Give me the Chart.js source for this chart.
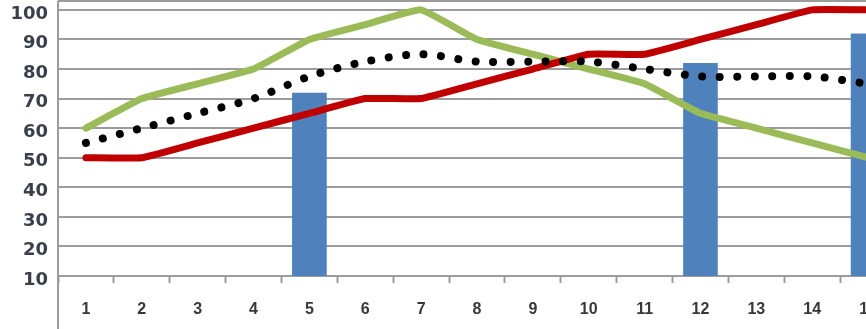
<!DOCTYPE html>
<html>
<head>
<meta charset="utf-8">
<script src="https://cdn.jsdelivr.net/npm/chart.js@4"></script>
<style>
  html, body { margin: 0; padding: 0; background: #fff; overflow: hidden; }
  #wrap { width: 866px; height: 329px; overflow: hidden; }
</style>
</head>
<body>
<div id="wrap"><canvas id="chart" width="896" height="329"></canvas></div>
<script>
// valeurs (la 15e catégorie est coupée au bord droit)
const categories = ['1', '2', '3', '4', '5', '6', '7', '8', '9', '10', '11', '12', '13', '14', '15'];
const barValues   = [null, null, null, null, 72, null, null, null, null, null, null, 82, null, null, 92];
const redValues   = [50, 50, 55, 60, 65, 70, 70, 75, 80, 85, 85, 90, 95, 100, 100];
const greenValues = [60, 70, 75, 80, 90, 95, 100, 90, 85, 80, 75, 65, 60, 55, 50];
const dotValues   = [55, 60, 65, 70, 77.5, 82.5, 85, 82.5, 82.5, 82.5, 80, 77.5, 77.5, 77.5, 75];
const yTicks      = [10, 20, 30, 40, 50, 60, 70, 80, 90, 100];

const GRID = '#9c9c9c';
const BLUE = '#4f81bd';
const RED  = '#c00000';
const GREEN = '#9bbb59';

// prolonge l'axe vertical jusqu'en bas, comme sur l'original
const axisDown = {
    id: 'axisDown',
    afterDraw(chart) {
        const { ctx, chartArea } = chart;
        ctx.save();
        ctx.strokeStyle = GRID;
        ctx.lineWidth = 2;
        ctx.beginPath();
        ctx.moveTo(chartArea.left, chartArea.top);
        ctx.lineTo(chartArea.left, chart.height);
        ctx.stroke();
        ctx.restore();
    },
};

const line = (data, color, order) => ({
    type: 'line',
    data,
    borderColor: color,
    borderWidth: 7,
    pointRadius: 0,
    tension: 0.1,
    borderJoinStyle: 'round',
    borderCapStyle: 'round',
    order,
});

new Chart(document.getElementById('chart'), {
    data: {
        labels: categories,
        datasets: [
            {
                type: 'line',
                data: dotValues,
                borderColor: '#000',
                borderWidth: 8,
                borderDash: [0.01, 17.5],
                borderCapStyle: 'round',
                pointRadius: 0,
                tension: 0.3,
                order: 1,
            },
            line(redValues, RED, 2),
            line(greenValues, GREEN, 3),
            {
                type: 'bar',
                data: barValues,
                backgroundColor: BLUE,
                barPercentage: 0.62,
                categoryPercentage: 1,
                order: 4,
            },
        ],
    },
    options: {
        responsive: false,
        animation: false,
        devicePixelRatio: 1,
        layout: { padding: { top: 1, left: 0, right: 0, bottom: 0 } },
        plugins: { legend: { display: false }, tooltip: { enabled: false } },
        scales: {
            x: {
                offset: true,
                grid: {
                    offset: true,
                    drawOnChartArea: false,
                    drawTicks: true,
                    tickLength: 7,
                    tickWidth: 2,
                    color: GRID,
                },
                border: { display: true, color: GRID, width: 2 },
                ticks: {
                    color: '#383838',
                    font: { family: 'Liberation Sans', size: 16, weight: 'bold' },
                    padding: 17,
                    maxRotation: 0,
                    autoSkip: false,
                },
                afterFit(scale) { scale.height = 53; },
            },
            y: {
                min: 10,
                max: 103,
                afterBuildTicks(scale) {
                    scale.ticks = yTicks.concat([103]).map(v => ({ value: v }));
                },
                grid: { color: GRID, lineWidth: 2, drawTicks: false },
                border: { display: false },
                ticks: {
                    color: '#3a404b',
                    font: { family: 'DejaVu Sans', size: 18, weight: 'bold' },
                    padding: 10,
                    labelOffset: 4,
                    callback: (v) => (yTicks.includes(v) ? String(v) : ''),
                },
                afterFit(scale) {
                    scale.width = 58;
                    scale.paddingTop = 0;
                    scale.paddingBottom = 0;
                },
            },
        },
    },
    plugins: [axisDown],
});
</script>
</body>
</html>
